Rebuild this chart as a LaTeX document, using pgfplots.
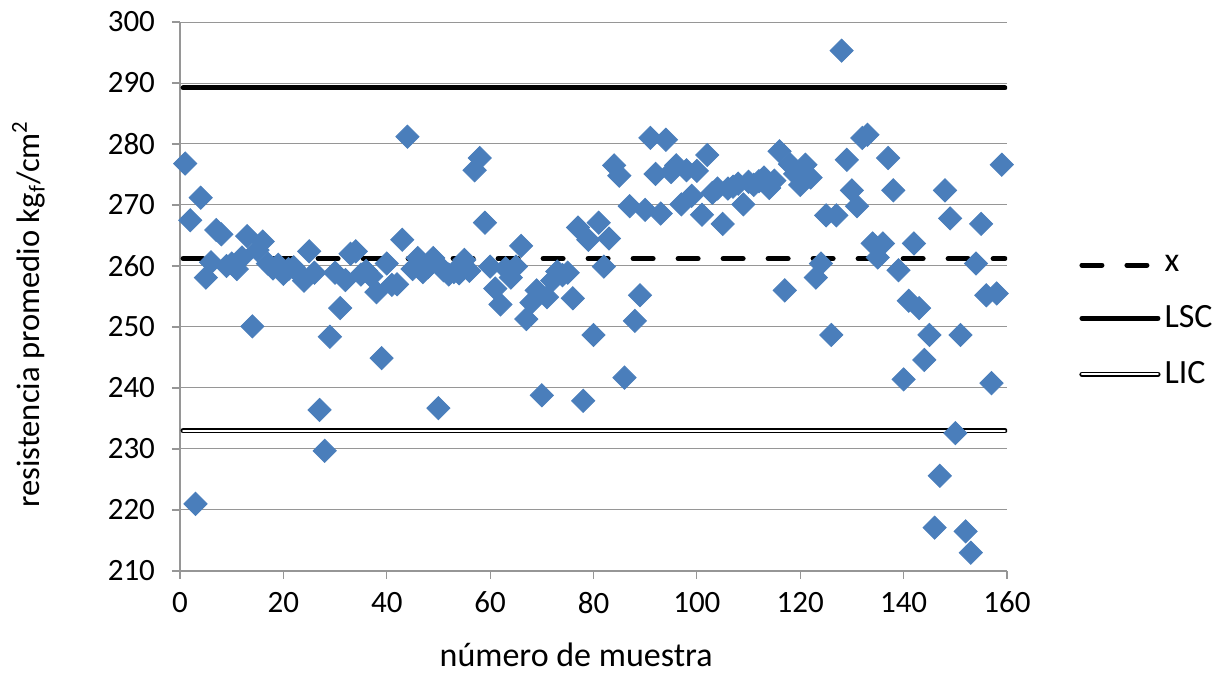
\documentclass[border=0pt]{standalone}
\usepackage{pgfplots}
\pgfplotsset{compat=1.18}
\usepackage{fontspec}
\setmainfont{Carlito}
\definecolor{mblue}{RGB}{74,126,187}
\definecolor{gridc}{RGB}{150,150,150}
\pgfplotstableread{
x y
1 276.8
2 267.5
3 221.0
4 271.2
5 258.1
6 260.6
7 265.9
8 265.2
9 260.0
10 260.4
11 259.5
12 261.4
13 264.9
14 250.1
15 262.6
16 264.0
17 260.4
18 259.6
19 260.2
20 258.7
21 259.5
22 259.8
23 258.8
24 257.6
25 262.4
26 258.9
27 236.4
28 229.7
29 248.4
30 258.9
31 253.1
32 257.7
33 262.0
34 262.4
35 258.6
36 259.2
37 258.3
38 255.7
39 244.9
40 260.4
41 256.9
42 257.0
43 264.3
44 281.2
45 259.5
46 261.3
47 259.0
48 259.8
49 261.3
50 236.7
51 259.3
52 258.6
53 259.0
54 258.8
55 261.0
56 259.2
57 275.7
58 277.7
59 267.1
60 259.9
61 256.3
62 253.7
63 259.6
64 258.1
65 259.9
66 263.3
67 251.3
68 254.0
69 256.0
70 238.8
71 254.9
72 257.6
73 259.1
74 258.5
75 258.9
76 254.7
77 266.3
78 237.9
79 264.3
80 248.7
81 267.1
82 259.9
83 264.5
84 276.5
85 274.8
86 241.7
87 269.8
88 251.0
89 255.2
90 269.2
91 281.0
92 275.1
93 268.6
94 280.7
95 275.4
96 276.5
97 270.1
98 275.7
99 271.5
100 275.6
101 268.4
102 278.2
103 272.0
104 272.7
105 266.9
106 272.7
107 273.0
108 273.5
109 270.1
110 273.8
111 273.3
112 273.9
113 274.5
114 272.8
115 274.0
116 278.8
117 256.0
118 276.7
119 275.1
120 273.3
121 276.6
122 274.5
123 258.1
124 260.4
125 268.3
126 248.7
127 268.3
128 295.3
129 277.4
130 272.4
131 269.8
132 281.0
133 281.5
134 263.7
135 261.4
136 263.7
137 277.7
138 272.4
139 259.3
140 241.4
141 254.3
142 263.7
143 253.1
144 244.6
145 248.7
146 217.1
147 225.6
148 272.4
149 267.8
150 232.6
151 248.7
152 216.5
153 213.0
154 260.4
155 266.9
156 255.2
157 240.8
158 255.5
159 276.6
}\datatable
\begin{document}
\begin{tikzpicture}
\begin{axis}[
  scale only axis,
  width=413.5pt, height=274.5pt,
  xmin=0, xmax=160, ymin=210, ymax=300,
  xtick={0,20,...,160}, ytick={210,220,...,300},
  axis x line*=bottom, axis y line*=left,
  axis line style={draw=gridc, line width=0.6pt, -},
  ymajorgrids, grid style={draw=gridc, line width=0.5pt},
  tick align=outside, major tick length=4pt,
  tick style={draw=gridc, line width=0.6pt},
  /pgf/number format/assume math mode=true,
  ticklabel style={font=\fontsize{15.5}{18}\selectfont},
  yticklabel style={xshift=-5pt},
  xticklabel style={yshift=-3pt},
  xlabel={número de muestra},
  ylabel={resistencia promedio kg\textsubscript{f}/cm\textsuperscript{2}},
  xlabel style={font=\fontsize{17}{20}\selectfont, inner sep=0pt, at={(axis description cs:0.479,-0.152)}, anchor=center},
  ylabel style={font=\fontsize{16.3}{19}\selectfont, at={(axis description cs:-0.183,0.468)}, anchor=center},
  legend style={draw=none, fill=none, at={(1.087,0.455)}, anchor=west,
    font=\fontsize{17}{20}\selectfont, row sep=11.5pt, inner sep=0pt},
  legend cell align=left,
  legend image code/.code={\draw[#1] (0pt,0pt) -- (38pt,0pt);},
]
\addplot[only marks, mark=square*, mark size=4.1pt, color=mblue,
  mark options={rotate=45, fill=mblue, draw=mblue}, forget plot]
  table[x=x, y=y] {\datatable};
\addplot[black, line width=2.5pt, line cap=round, dash pattern=on 10pt off 12.5pt]
  coordinates {(0.6,261.2) (159.6,261.2)};
\addlegendentry{x}
\addplot[black, line width=2.5pt, line cap=round]
  coordinates {(0.6,289.2) (159.6,289.2)};
\addlegendentry{LSC}
\addplot[draw=black, line width=0.8pt, double=white, double distance=1pt, line cap=round]
  coordinates {(0.6,233.0) (159.6,233.0)};
\addlegendentry{LIC}
\coordinate (sw) at (rel axis cs:0,0);
\end{axis}
\pgfresetboundingbox
\useasboundingbox (sw) ++(-90pt,-51pt) rectangle ++(610.5pt,336.5pt);
\end{tikzpicture}
\end{document}
